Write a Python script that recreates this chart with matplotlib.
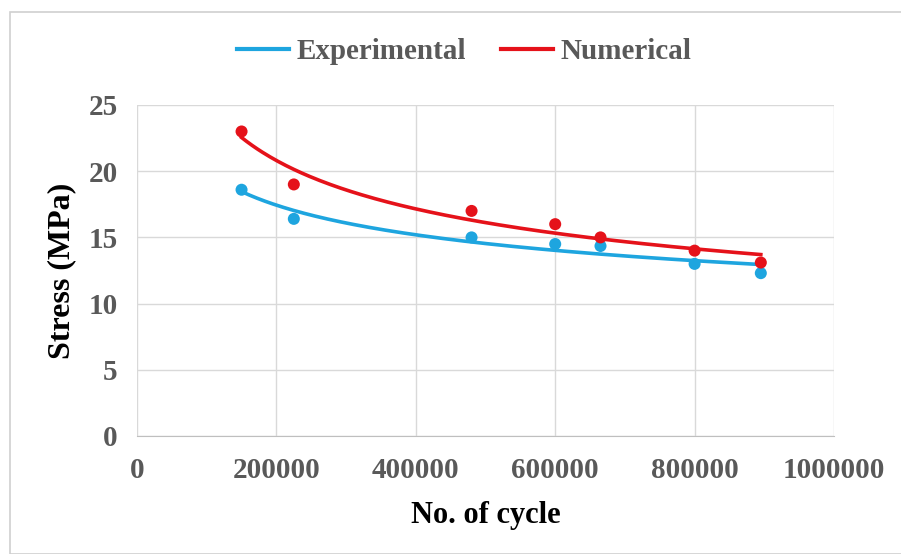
import numpy as np
import matplotlib.pyplot as plt
from matplotlib.patches import Rectangle
from matplotlib.lines import Line2D
from matplotlib.ticker import FuncFormatter

# valores
cycles = [150000, 225000, 480000, 600000, 665000, 800000, 895000]
stress_exp = [18.6, 16.4, 15.0, 14.5, 14.35, 13.0, 12.3]
stress_num = [23.0, 19.0, 17.0, 16.0, 15.0, 14.0, 13.1]

blue = '#1ea5df'
red = '#e5121a'
grey = '#595959'

plt.rcParams['font.family'] = ['Liberation Serif', 'DejaVu Serif']
plt.rcParams['font.weight'] = 'bold'

fig = plt.figure(figsize=(9.01, 5.54), dpi=100)
fig.patches.append(Rectangle((10/901, 0.0), 1.0, 1 - 12/554, transform=fig.transFigure,
                             fill=False, edgecolor='#d0d0d0', lw=1.2))
ax = fig.add_axes([137/901, 1 - 436/554, 697/901, 331/554])

# linea de tendencia potencial, como en excel
def power_trend(x, y):
    b, a = np.polyfit(np.log(x), np.log(y), 1)
    xs = np.linspace(min(x), max(x), 200)
    return xs, np.exp(a) * xs**b

for y, c in [(stress_exp, blue), (stress_num, red)]:
    xs, ys = power_trend(cycles, y)
    ax.plot(xs, ys, color=c, lw=2.6, zorder=3)
    ax.scatter(cycles, y, s=75, color=c, zorder=4, edgecolors='none')

ax.set_xlim(0, 1000000)
ax.set_ylim(0, 25)
ax.set_xticks(np.arange(0, 1000001, 200000))
ax.set_yticks(np.arange(0, 26, 5))
ax.xaxis.set_major_formatter(FuncFormatter(lambda v, p: '%d' % v))
ax.grid(True, color='#d9d9d9', lw=1)
ax.set_axisbelow(True)
for s in ['top', 'right', 'left']:
    ax.spines[s].set_visible(False)
ax.spines['bottom'].set_color('#bfbfbf')
ax.tick_params(length=0, labelsize=21, labelcolor=grey)
ax.tick_params(axis='x', pad=15)
ax.tick_params(axis='y', pad=14)
ax.set_xlabel('No. of cycle', fontsize=22, fontweight='bold', labelpad=12)
ax.set_ylabel('Stress (MPa)', fontsize=23, fontweight='bold', labelpad=9)

handles = [Line2D([], [], color=blue, lw=3), Line2D([], [], color=red, lw=3)]
fig.legend(handles, ['Experimental', 'Numerical'], loc='center', bbox_to_anchor=(464/901, 1 - 52/554),
           ncol=2, frameon=False, fontsize=21, labelcolor=grey, handlelength=1.8,
           handletextpad=0.25, columnspacing=1.2)

fig.savefig('out.png', dpi=100)
